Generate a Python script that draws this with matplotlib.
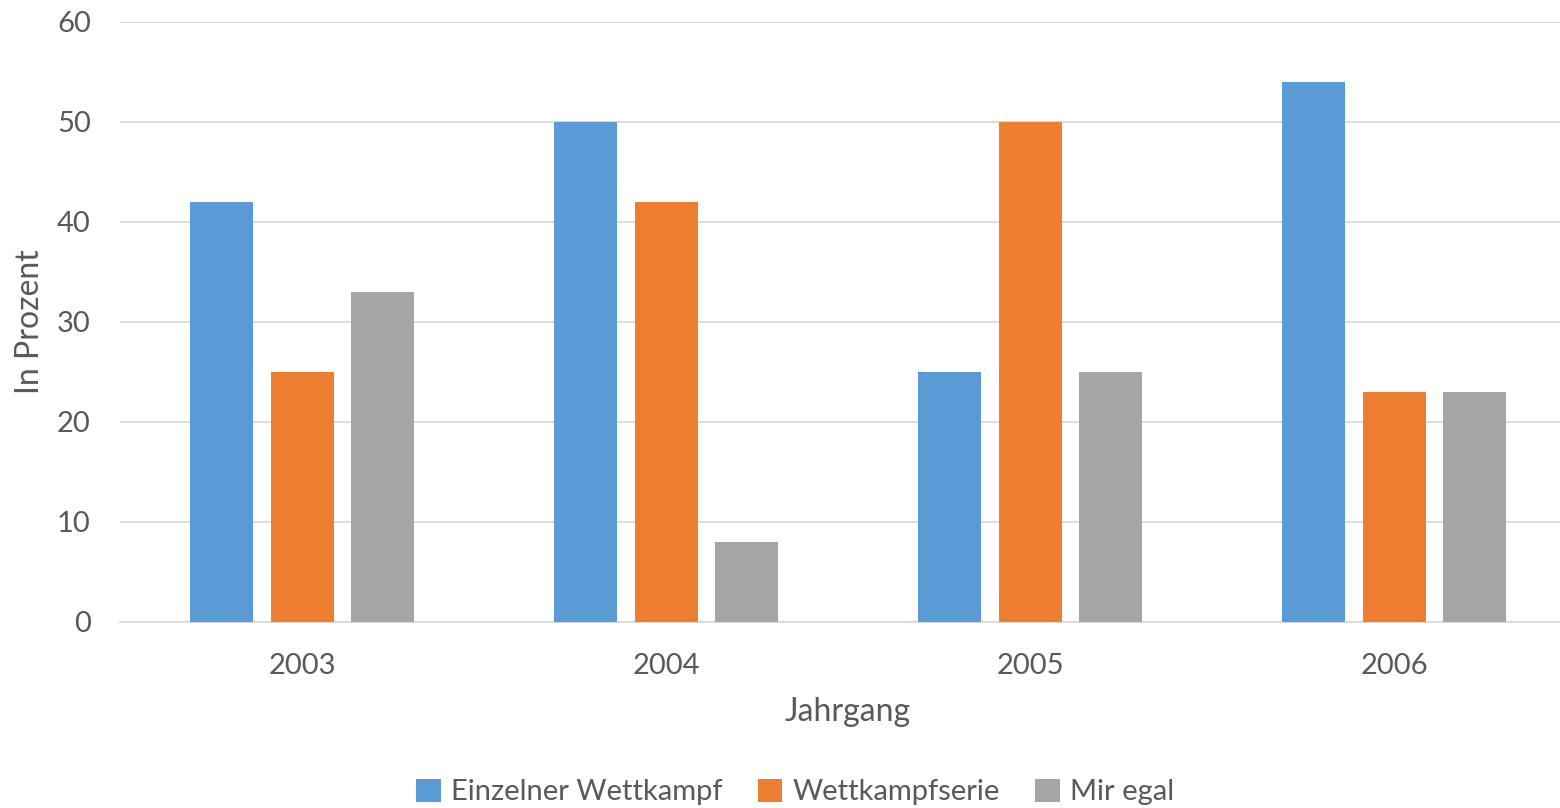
import numpy as np
import matplotlib.pyplot as plt
from matplotlib.patches import Patch

# Umfragewerte je Jahrgang
jahrgaenge = ['2003', '2004', '2005', '2006']
einzeln = [42, 50, 25, 54]
serie = [25, 42, 50, 23]
egal = [33, 8, 25, 23]

farben = ['#5B9BD5', '#ED7D31', '#A5A5A5']
namen = ['Einzelner Wettkampf', 'Wettkampfserie', 'Mir egal']
textfarbe = '#595959'

plt.rcParams['font.family'] = ['Lato', 'DejaVu Sans']

fig = plt.figure(figsize=(15.6, 8.08), dpi=100)
W, H = 1560, 808
# Plotbereich in Pixeln: links 120, oben 22, unten 622
ax = fig.add_axes([120 / W, (H - 622) / H, (W - 120) / W, 600 / H])

x = np.arange(len(jahrgaenge))
breite = 63 / 364
abstand = 80.5 / 364
for i, (werte, f) in enumerate(zip([einzeln, serie, egal], farben)):
    ax.bar(x + (i - 1) * abstand, werte, width=breite, color=f, zorder=3)

ax.set_ylim(0, 60)
ax.set_xlim(-0.5, -0.5 + (W - 120) / 364)
ax.set_yticks(range(0, 61, 10))
ax.set_xticks(x)
ax.set_xticklabels(jahrgaenge)
ax.grid(axis='y', color='#D9D9D9', linewidth=1.3, zorder=0)
for s in ['left', 'right', 'top']:
    ax.spines[s].set_visible(False)
ax.spines['bottom'].set_color('#D9D9D9')
ax.spines['bottom'].set_linewidth(1.3)
ax.tick_params(axis='both', length=0, labelsize=21, colors=textfarbe)
ax.tick_params(axis='y', pad=21)
ax.tick_params(axis='x', pad=22)

fig.text(30 / W, 1 - 322 / H, 'In Prozent', fontsize=23, color=textfarbe,
         rotation=90, ha='center', va='center')
fig.text(848 / W, 1 - 712 / H, 'Jahrgang', fontsize=23, color=textfarbe,
         ha='center', va='center')

handles = [Patch(facecolor=f, edgecolor='none') for f in farben]
fig.legend(handles, namen, loc='center', bbox_to_anchor=(795 / W, 1 - 792 / H),
           ncol=3, frameon=False, fontsize=21, labelcolor=textfarbe,
           handlelength=0.85, handleheight=0.85, handletextpad=0.35,
           columnspacing=1.2)

fig.savefig('out.png', dpi=100)
